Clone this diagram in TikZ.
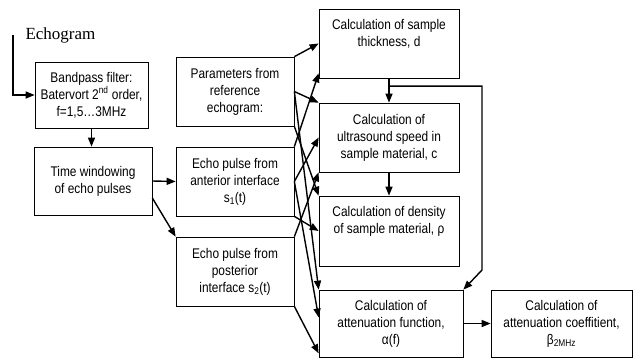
\documentclass[tikz,border=0pt]{standalone}
\usepackage{fontspec}
\setmainfont{Liberation Sans}[FakeStretch=0.85]
\newfontfamily\echofont{Liberation Serif}
\usepackage{tikz}
\usetikzlibrary{calc, arrows.meta}

\begin{document}
\begin{tikzpicture}[x=1pt, y=-1pt,
        box/.style={draw, line width=0.7pt, align=center, inner sep=2pt,
            font=\fontsize{14}{17}\selectfont},
        link/.style={line width=1.4pt, -{Triangle[length=9pt, width=7pt]}}]
            \useasboundingbox (0,0) rectangle (633,360);

            % input and preprocessing
            \node[font=\echofont\fontsize{17}{20}\selectfont, anchor=west] (echo) at (22,35) {Echogram};
            \coordinate (src) at (13,35);
            \node[box, minimum width=113, minimum height=66] (filt) at (91.5,95)
                {Bandpass filter:\\Batervort 2\textsuperscript{nd} order,\\f=1,5…3MHz};
            \node[box, minimum width=118, minimum height=68] (win) at (93,181)
                {Time windowing\\of echo pulses};

            % middle column
            \node[box, minimum width=118, minimum height=69] (params) at (235,91.5)
                {Parameters from\\reference\\echogram:};
            \node[box, minimum width=118, minimum height=69] (ant) at (235,181.5)
                {Echo pulse from\\anterior interface\\s\textsubscript{1}(t)};
            \node[box, minimum width=118, minimum height=69] (post) at (235,271.5)
                {Echo pulse from\\posterior\\interface s\textsubscript{2}(t)};

            % calculations
            \node[box, minimum width=140, minimum height=69] (thick) at (389,43.5)
                {Calculation of sample\\thickness, d\\\strut};
            \node[box, minimum width=140, minimum height=69] (speed) at (389,137.5)
                {Calculation of\\ultrasound speed in\\sample material, c};
            \node[box, minimum width=140, minimum height=70] (dens) at (389,231)
                {Calculation of density\\of sample material, ρ\\\strut};
            \node[box, minimum width=144, minimum height=67] (att) at (391,323.5)
                {Calculation of\\attenuation function,\\α(f)};
            \node[box, minimum width=141, minimum height=67] (coef) at (561.5,323.5)
                {Calculation of\\attenuation coeffitient,\\β\textsubscript{2MHz}};
            \coordinate (turn) at (482,270);

            \draw[link] (src) |- (filt.west);
            \draw[link] (filt.south) -- (filt.south |- win.north);
            \draw[link] (win.east) -- (ant.west);
            \draw[link] ($(win.east)+(0,17)$) -- (post.north west);

            \draw[link] (params.north east) -- (thick.west);
            \draw[link] (params.east) -- (speed.north west);
            \draw[link] (params.east) -- (att.north west);
            \draw[link] (params.south east) -- (dens.north west);
            \draw[link] (ant.north east) -- ($(thick.south west)+(0,-5)$);
            \draw[link] (ant.east) -- (speed.west);
            \draw[link] (ant.east) -- ($(att.west)+(0,-6)$);
            \draw[link] (ant.south east) -- (dens.west);
            \draw[link] (post.north east) -- (speed.south west);
            \draw[link] (post.south east) -- ($(att.south west)+(0,-4)$);

            \draw[link] (thick.south) -- (speed.north);
            \draw[link] ($(thick.south)!0.32!(speed.north)$) -| (turn) -- (att.north east);
            \draw[link] (speed.south) -- (dens.north);
            \draw[link] (att.east) -- (coef.west);
        \end{tikzpicture}
\end{document}
